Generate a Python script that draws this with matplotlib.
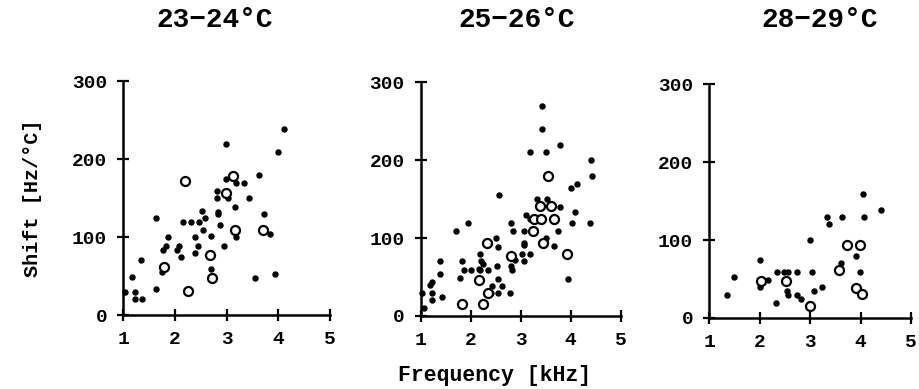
import numpy as np
import matplotlib
matplotlib.use("Agg")
from matplotlib import pyplot as plt

plt.rcParams['font.family'] = ['Liberation Mono', 'DejaVu Sans Mono']
plt.rcParams['font.weight'] = 'bold'

titles = ["23\u221224\u00b0C", "25\u221226\u00b0C", "28\u221229\u00b0C"]

# panel 1 (23-24 C)
p1_fill_x = [4.11, 3.99, 2.99, 3.62, 2.99, 3.18, 3.34, 2.82, 2.81, 3.03, 3.44, 3.17,
             3.72, 2.52, 2.58, 2.83, 2.84, 2.15, 2.31, 2.46, 2.54, 2.87, 2.38, 2.70,
             1.87, 2.45, 2.94, 1.83, 1.77, 2.08, 2.03, 2.38, 2.11, 1.63, 1.35, 1.16,
             1.75, 2.69, 1.63, 1.03, 1.22, 1.22, 1.37, 3.19, 3.54, 3.94, 3.83, 3.15]
p1_fill_y = [238, 209, 220, 179, 174, 169, 169, 159, 150, 150, 150, 139,
             129, 134, 124, 132, 129, 119, 119, 119, 109, 115, 100, 101,
             100, 89, 89, 89, 84, 89, 84, 79, 74, 125, 70, 49,
             55, 59, 34, 30, 30, 21, 20, 100, 48, 53, 104, 106]
p1_open_x = [2.19, 3.13, 2.98, 3.17, 3.71, 2.67, 1.78, 2.71, 2.26]
p1_open_y = [172, 178, 156, 109, 109, 77, 62, 47, 31]

# panel 2 (25-26 C)
p2_fill_x = [3.43, 3.43, 3.78, 3.19, 3.50, 4.40, 4.43, 4.13, 4.01, 2.56, 3.32, 3.53,
             3.79, 4.09, 3.11, 3.19, 4.03, 4.39, 2.80, 2.84, 3.06, 3.75, 1.94, 1.71,
             3.07, 3.07, 2.50, 2.54, 2.19, 2.21, 3.02, 3.18, 2.89, 3.06, 1.83, 1.38,
             1.39, 1.87, 2.00, 2.16, 2.35, 2.52, 2.82, 2.81, 1.79, 2.25, 2.19, 2.54,
             2.63, 2.43, 2.40, 2.55, 2.79, 1.23, 1.18, 1.23, 1.43, 1.22, 1.03, 1.07,
             3.47, 3.50, 3.67, 3.95]
p2_fill_y = [270, 240, 220, 210, 210, 200, 180, 170, 164, 155, 150, 150,
             140, 134, 130, 124, 119, 119, 119, 109, 109, 109, 120, 109,
             94, 91, 100, 89, 79, 70, 79, 79, 72, 70, 70, 70,
             54, 59, 59, 60, 59, 64, 59, 64, 49, 67, 59, 48,
             39, 38, 29, 29, 29, 44, 40, 29, 24, 20, 29, 10,
             94, 100, 90, 48]
p2_open_x = [3.55, 3.39, 3.61, 3.26, 3.41, 3.66, 3.24, 2.33, 2.80, 3.44, 3.93, 2.17,
             2.34, 1.83, 2.25]
p2_open_y = [180, 141, 141, 124, 124, 124, 109, 94, 77, 94, 79, 46,
             29, 15, 15]

# panel 3 (28-29 C)
p3_fill_x = [4.05, 4.40, 3.33, 3.64, 4.06, 3.38, 2.99, 3.90, 3.61, 2.01, 2.34, 2.48,
             2.56, 2.73, 3.03, 3.99, 1.50, 2.17, 2.00, 2.56, 2.74, 2.81, 3.07, 3.23,
             2.33, 1.35, 2.55]
p3_fill_y = [159, 139, 129, 129, 129, 120, 100, 79, 70, 74, 59, 59,
             59, 59, 59, 59, 53, 49, 40, 29, 29, 24, 34, 39,
             19, 29, 35]
p3_open_x = [3.74, 3.98, 3.57, 2.03, 2.52, 3.90, 4.03, 2.99]
p3_open_y = [94, 94, 62, 47, 47, 38, 30, 15]

panels = [
    (p1_fill_x, p1_fill_y, p1_open_x, p1_open_y),
    (p2_fill_x, p2_fill_y, p2_open_x, p2_open_y),
    (p3_fill_x, p3_fill_y, p3_open_x, p3_open_y),
]

fig = plt.figure(figsize=(9.19, 3.89), dpi=100)

boxes = [
    [0.1342, 0.190, 0.2249, 0.6015],
    [0.4578, 0.188, 0.2176, 0.6000],
    [0.7718, 0.183, 0.2195, 0.6000],
]
title_x = [215 / 919, 517 / 919, 820 / 919]

for i, (box, (fx, fy, ox, oy)) in enumerate(zip(boxes, panels)):
    ax = fig.add_axes(box)
    ax.plot(fx, fy, 'o', color='black', markersize=3.6, clip_on=False)
    ax.plot(ox, oy, 'o', markerfacecolor='white', markeredgecolor='black',
            markersize=6.5, markeredgewidth=1.6, clip_on=False)
    ax.set_xlim(1, 5)
    ax.set_ylim(0, 300)
    ax.set_xticks([1, 2, 3, 4, 5])
    ax.set_yticks([0, 100, 200, 300])
    for s in ['top', 'right']:
        ax.spines[s].set_visible(False)
    for s in ['left', 'bottom']:
        ax.spines[s].set_linewidth(1.8)
    ax.tick_params(direction='inout', length=9, width=1.6, labelsize=14, pad=7)
    for lab in ax.get_xticklabels() + ax.get_yticklabels():
        lab.set_fontweight('bold')
    fig.text(title_x[i], 1 - 20 / 389, titles[i], ha='center', va='center',
             fontsize=20, fontweight='bold')
    if i == 0:
        ax.set_ylabel('Shift [Hz/\u00b0C]', fontsize=14.5, fontweight='bold', labelpad=22)

fig.text(495 / 919, 1 - 376 / 389, 'Frequency [kHz]', ha='center', va='center',
         fontsize=15.5, fontweight='bold')

fig.savefig('out.png', dpi=100)
